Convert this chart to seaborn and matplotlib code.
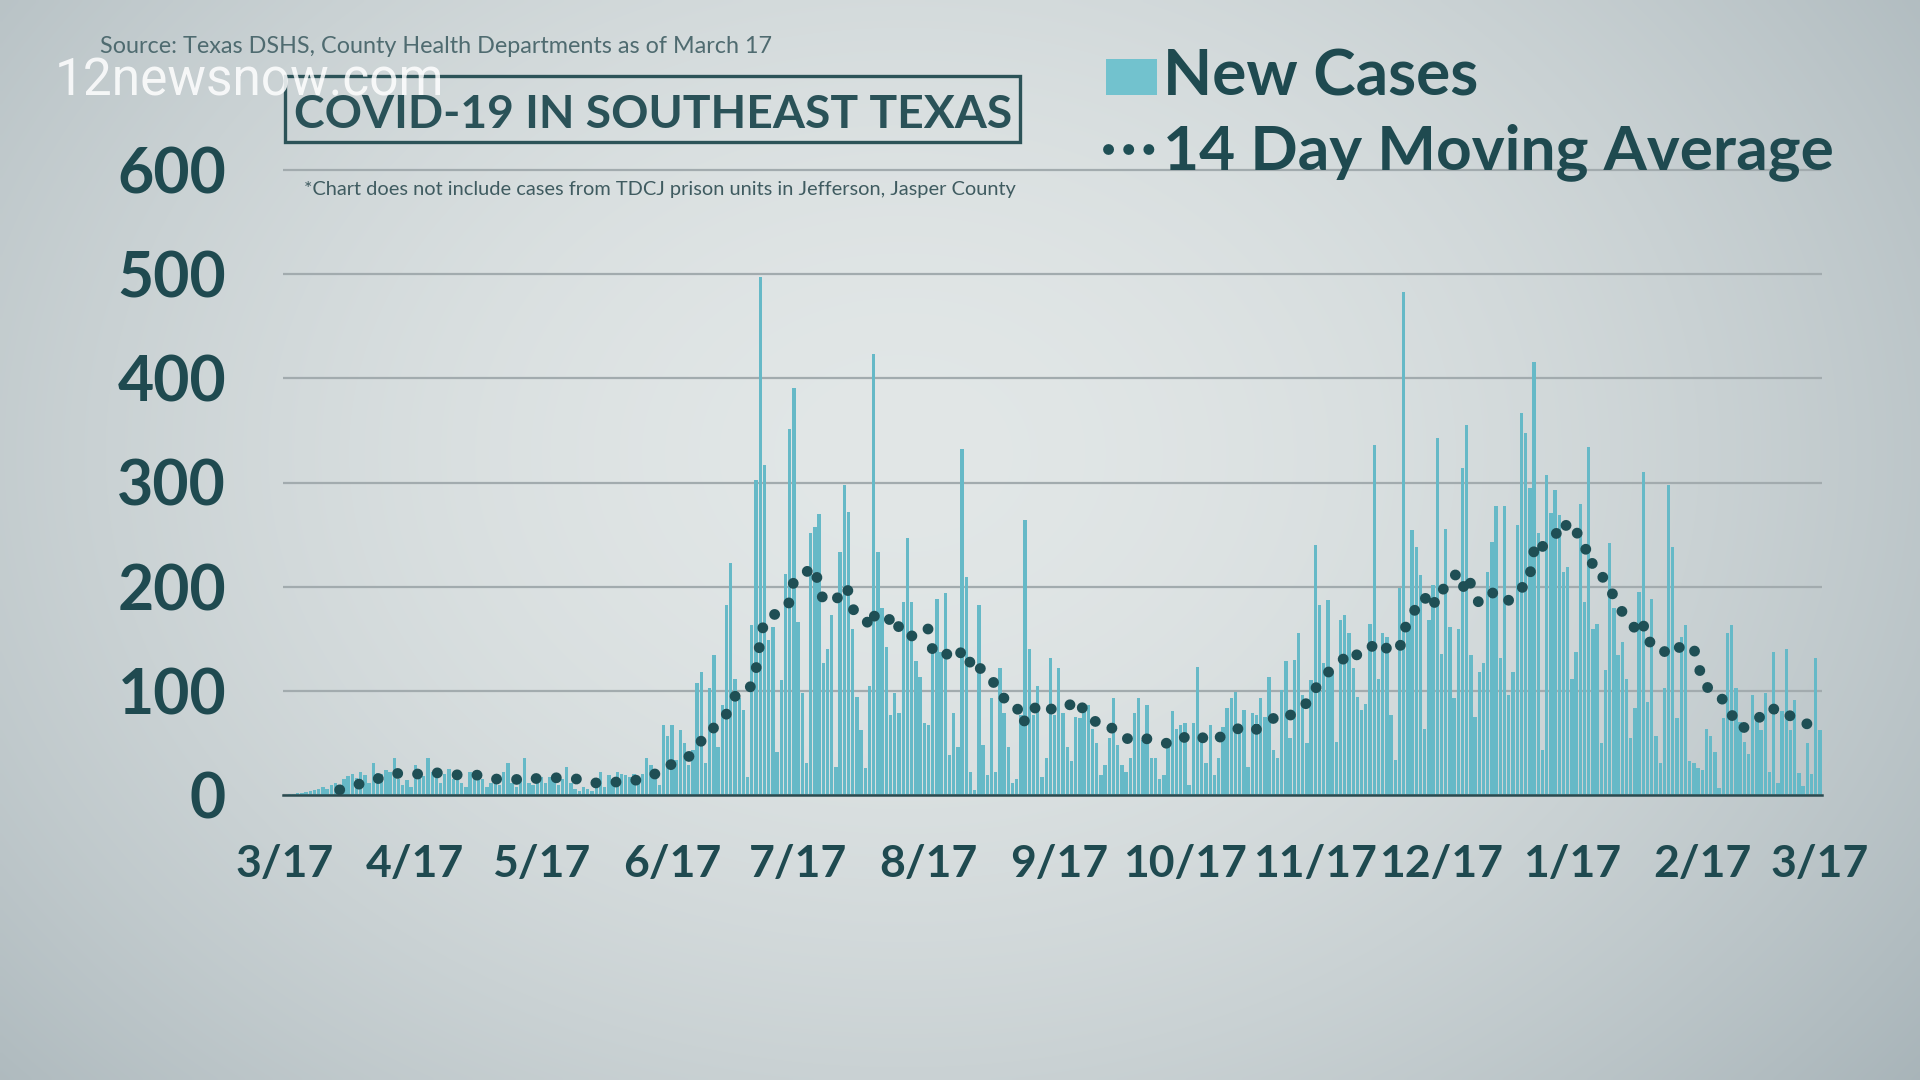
import numpy as np
import pandas as pd
import matplotlib
matplotlib.use("Agg")
import matplotlib.pyplot as plt
import seaborn as sns
from matplotlib.patches import Rectangle
from matplotlib.lines import Line2D

# ---------------- data (daily new cases) ----------------
start_date = "2020-03-17"
end_date = "2021-03-17"
cases_mar17_apr16 = [0, 1, 1, 2, 2, 3, 4, 5, 6, 8, 6, 10, 12, 9, 15, 18, 20, 16, 22, 19,
                     12, 31, 21, 20, 24, 22, 36, 15, 10, 14, 8]
cases_apr17_may16 = [29, 20, 18, 36, 22, 25, 12, 20, 25, 15, 17, 12, 8, 22, 17, 17, 15, 8, 12, 15,
                     10, 22, 31, 12, 8, 15, 36, 12, 10, 15]
cases_may17_jun16 = [17, 12, 17, 14, 10, 15, 27, 12, 6, 4, 8, 6, 4, 10, 22, 8, 19, 15, 22, 20,
                     19, 17, 20, 17, 20, 36, 29, 19, 10, 67, 57]
cases_jun17_jul16 = [67, 34, 62, 50, 29, 43, 108, 118, 31, 103, 134, 46, 86, 182, 223, 111, 93, 82, 17, 163,
                     302, 497, 317, 149, 161, 41, 110, 212, 351, 391]
cases_jul17_aug16 = [166, 98, 31, 252, 257, 270, 127, 140, 173, 27, 233, 298, 272, 159, 94, 62, 26, 105, 423, 233,
                     180, 142, 77, 98, 79, 185, 247, 185, 129, 113, 69]
cases_aug17_sep16 = [67, 139, 188, 137, 194, 38, 79, 46, 332, 209, 22, 5, 182, 48, 19, 93, 22, 122, 79, 46,
                     12, 15, 77, 264, 140, 77, 105, 17, 36, 132, 77]
cases_sep17_oct16 = [122, 79, 46, 33, 75, 74, 81, 86, 63, 50, 19, 29, 55, 93, 48, 29, 22, 36, 79, 93,
                     53, 86, 36, 36, 15, 19, 48, 81, 63, 67]
cases_oct17_nov16 = [69, 10, 69, 123, 60, 31, 67, 19, 36, 65, 84, 93, 99, 63, 82, 27, 79, 77, 93, 75,
                     113, 43, 36, 101, 129, 55, 130, 156, 96, 50, 110]
cases_nov17_dec16 = [240, 182, 127, 187, 118, 51, 168, 173, 156, 122, 94, 82, 87, 164, 336, 111, 156, 152, 77, 34,
                     199, 483, 164, 254, 238, 211, 63, 168, 202, 343]
cases_dec17_jan16 = [135, 255, 161, 93, 159, 314, 355, 134, 75, 118, 127, 214, 243, 277, 132, 277, 96, 118, 259, 367,
                     348, 295, 416, 252, 43, 307, 271, 293, 269, 214, 219]
cases_jan17_feb16 = [111, 137, 279, 185, 334, 159, 164, 50, 120, 242, 180, 134, 147, 111, 55, 84, 195, 310, 89, 188,
                     57, 31, 103, 298, 238, 74, 152, 163, 33, 31, 26]
cases_feb17_mar17 = [24, 63, 57, 41, 7, 74, 156, 163, 103, 70, 51, 39, 96, 77, 62, 98, 22, 137, 12, 81,
                     140, 62, 91, 21, 9, 50, 20, 132, 62]

tick_dates = ["2020-03-17", "2020-04-17", "2020-05-17", "2020-06-17", "2020-07-17", "2020-08-17",
              "2020-09-17", "2020-10-17", "2020-11-17", "2020-12-17", "2021-01-17", "2021-02-17",
              "2021-03-17"]
tick_labels = ["3/17", "4/17", "5/17", "6/17", "7/17", "8/17", "9/17", "10/17", "11/17",
               "12/17", "1/17", "2/17", "3/17"]
y_ticks = [0, 100, 200, 300, 400, 500, 600]

title_text = "COVID-19 IN SOUTHEAST TEXAS"
source_text = "Source: Texas DSHS, County Health Departments as of March 17"
note_text = "*Chart does not include cases from TDCJ prison units in Jefferson, Jasper County"
legend_bar_text = "New Cases"
legend_line_text = "14 Day Moving Average"
watermark_text = "12newsnow.com"

# ---------------- assemble ----------------
cases = (cases_mar17_apr16 + cases_apr17_may16 + cases_may17_jun16 + cases_jun17_jul16 +
         cases_jul17_aug16 + cases_aug17_sep16 + cases_sep17_oct16 + cases_oct17_nov16 +
         cases_nov17_dec16 + cases_dec17_jan16 + cases_jan17_feb16 + cases_feb17_mar17)
dates = pd.date_range(start_date, end_date, freq="D")
t0 = pd.Timestamp(start_date)
df = pd.DataFrame({"day": (dates - t0).days, "cases": cases})
df["ma"] = df["cases"].rolling(14).mean()
tick_pos = list((pd.to_datetime(tick_dates) - t0).days)

# ---------------- style ----------------
sns.set_style("white")
plt.rcParams["font.family"] = ["Lato", "DejaVu Sans"]

W, H = 1920, 1080
BAR = "#66b9c7"
DOT = "#1f4f55"
TXT = "#1f4a50"
GRID = "#a2abae"
DARK = "#2b4a4f"
DOT_LW = 7.8
DOT_STYLE = (0, (0.01, 1.85))


def fx(x):
    return x / W


def fy(y):
    return 1 - y / H


fig = plt.figure(figsize=(19.2, 10.8), dpi=100)

# background vignette
bg = fig.add_axes([0, 0, 1, 1], zorder=-10)
yy, xx = np.mgrid[0:1:270j, 0:1:480j]
r = np.sqrt(((xx - 0.47) / 0.62) ** 2 + ((yy - 0.42) / 0.85) ** 2)
t = np.clip(r, 0, 1.15) ** 1.8 / (1.15 ** 1.8)
c0 = np.array([0.885, 0.905, 0.905])
c1 = np.array([0.64, 0.69, 0.71])
img = c0[None, None, :] * (1 - t[..., None]) + c1[None, None, :] * t[..., None]
bg.imshow(img, extent=[0, 1, 0, 1], aspect="auto", interpolation="bilinear")
bg.axis("off")

# main axes
px_per_day = (1820 - 285) / 365
xlo, xhi = -0.45, 365.45
left_px = 285 + xlo * px_per_day
right_px = 285 + xhi * px_per_day
ytop = 604
px_per_unit = (795 - 170) / 600
top_px = 795 - ytop * px_per_unit
ax = fig.add_axes([fx(left_px), fy(795), (right_px - left_px) / W, (795 - top_px) / H])
ax.patch.set_alpha(0)

sns.barplot(data=df, x="day", y="cases", native_scale=True, color=BAR, saturation=1,
            width=0.8, errorbar=None, linewidth=0, ax=ax, zorder=2)
sns.lineplot(data=df, x="day", y="ma", color=DOT, lw=DOT_LW, linestyle=DOT_STYLE,
             estimator=None, legend=False, ax=ax, zorder=4)
for ln in ax.lines:
    ln.set_dash_capstyle("round")

ax.set_xlim(xlo, xhi)
ax.set_ylim(0, ytop)
ax.set_xticks(tick_pos)
ax.set_xticklabels(tick_labels)
ax.set_yticks(y_ticks)
ax.set_yticklabels([str(v) for v in y_ticks])
ax.set_xlabel("")
ax.set_ylabel("")
ax.grid(axis="y", color=GRID, lw=1.6)
ax.grid(axis="x", visible=False)
ax.set_axisbelow(True)
for s in ["left", "right", "top"]:
    ax.spines[s].set_visible(False)
ax.spines["bottom"].set_color(DARK)
ax.spines["bottom"].set_linewidth(1.8)
ax.spines["bottom"].set_zorder(5)
ax.tick_params(axis="x", length=11.5, width=1.1, color=DARK, pad=24, labelsize=32,
               labelcolor=TXT)
ax.tick_params(axis="y", length=0, pad=41, labelsize=45, labelcolor=TXT)
for lab in ax.get_xticklabels() + ax.get_yticklabels():
    lab.set_fontweight("bold")

# ---------------- annotations ----------------
renderer = fig.canvas.get_renderer()


def fit(txt, width_px):
    bb = txt.get_window_extent(renderer=renderer)
    txt.set_fontsize(txt.get_fontsize() * width_px / bb.width)


src = fig.text(fx(100), fy(53), source_text, color="#4f6b70", fontsize=16, va="baseline")
fit(src, 676)

box = Rectangle((fx(285), fy(142)), (1020 - 285) / W, (142 - 76) / H, transform=fig.transFigure,
                fill=False, edgecolor="#2c5358", lw=2.4, zorder=3)
fig.add_artist(box)
ttl = fig.text(fx(294), fy(128), title_text, color="#2a5258", fontsize=32, fontweight="bold",
               va="baseline", zorder=4)
fit(ttl, 720)

wm = fig.text(fx(55), fy(96), watermark_text, color="white", alpha=0.85, fontsize=36,
              family=["Roboto", "DejaVu Sans"], va="baseline", zorder=6)
fit(wm, 390)

note = fig.text(fx(304), fy(195), note_text, color="#3f5b60", fontsize=12, va="baseline")
fit(note, 709)

# legend
sq = Rectangle((fx(1106), fy(95)), 51 / W, 36 / H, transform=fig.transFigure,
               facecolor="#72c2ce", edgecolor="none")
fig.add_artist(sq)
lg1 = fig.text(fx(1163), fy(96), legend_bar_text, color=TXT, fontsize=42, fontweight="bold",
               va="baseline")
fit(lg1, 316)
ldots = Line2D([fx(1108), fx(1149)], [fy(149), fy(149)], transform=fig.transFigure, color=DOT,
               lw=DOT_LW, linestyle=DOT_STYLE)
ldots.set_dash_capstyle("round")
fig.add_artist(ldots)
lg2 = fig.text(fx(1163), fy(169), legend_line_text, color=TXT, fontsize=42, fontweight="bold",
               va="baseline")
fit(lg2, 671)

fig.savefig("out.png", dpi=100)
